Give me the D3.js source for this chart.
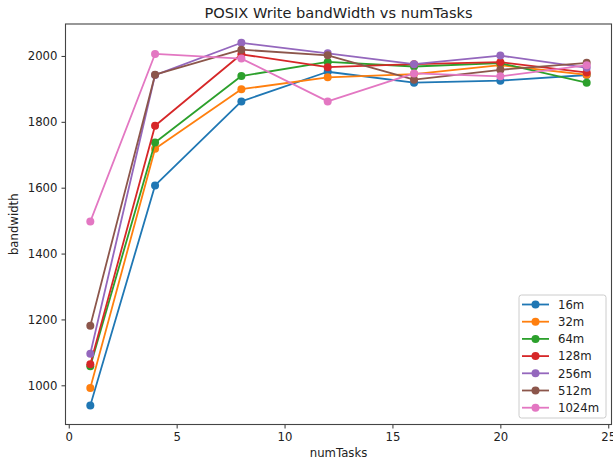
<!DOCTYPE html>
<html>
<head>
<meta charset="utf-8">
<script src="https://cdn.jsdelivr.net/npm/d3@7"></script>
<style>
  html, body { margin: 0; padding: 0; background: #fff; }
  svg { display: block; font-family: "DejaVu Sans", sans-serif; }
</style>
</head>
<body>
<svg id="chart" width="613" height="464"></svg>
<script>
// numTasks on the x axis
const numTasks = [1, 4, 8, 12, 16, 20, 24];

// bandwidth per block size
const bw16m   = [939, 1607, 1862, 1952, 1919, 1925, 1942];
const bw32m   = [992, 1718, 1899, 1935, 1945, 1972, 1943];
const bw64m   = [1058, 1737, 1939, 1982, 1968, 1978, 1919];
const bw128m  = [1064, 1788, 2005, 1966, 1975, 1981, 1950];
const bw256m  = [1096, 1942, 2040, 2008, 1975, 2001, 1964];
const bw512m  = [1181, 1943, 2019, 2002, 1928, 1958, 1979];
const bw1024m = [1497, 2006, 1992, 1862, 1947, 1938, 1972];

const seriesNames = ["16m", "32m", "64m", "128m", "256m", "512m", "1024m"];
const seriesValues = [bw16m, bw32m, bw64m, bw128m, bw256m, bw512m, bw1024m];
const seriesColors = ["#1f77b4", "#ff7f0e", "#2ca02c", "#d62728", "#9467bd", "#8c564b", "#e377c2"];

const xTicks = [0, 5, 10, 15, 20, 25];
const yTicks = [1000, 1200, 1400, 1600, 1800, 2000];

const plot = { left: 65.5, right: 611.5, top: 24, bottom: 424.5 };

const svg = d3.select("#chart");

const x = d3.scaleLinear().domain([-0.15, 25.15]).range([plot.left, plot.right]);
const y = d3.scaleLinear().domain([881, 2097]).range([plot.bottom, plot.top]);

const tickFont = "11.7px";

// axes
const xAxis = svg.append("g")
  .attr("transform", `translate(0,${plot.bottom})`)
  .call(d3.axisBottom(x).tickValues(xTicks).tickFormat(d3.format("d")).tickSizeOuter(0).tickSize(4).tickPadding(4));
const yAxis = svg.append("g")
  .attr("transform", `translate(${plot.left},0)`)
  .call(d3.axisLeft(y).tickValues(yTicks).tickFormat(d3.format("d")).tickSizeOuter(0).tickSize(4).tickPadding(4));

[xAxis, yAxis].forEach(g => {
  g.select(".domain").remove();
  g.selectAll(".tick line").attr("stroke", "#333").attr("stroke-width", 1);
  g.selectAll(".tick text")
    .attr("fill", "#222")
    .style("font-size", tickFont)
    .style("font-family", "DejaVu Sans, sans-serif");
});

// series lines and markers
const line = d3.line().x((d, i) => x(numTasks[i])).y(d => y(d));

seriesValues.forEach((vals, k) => {
  const g = svg.append("g");
  g.append("path")
    .datum(vals)
    .attr("d", line)
    .attr("fill", "none")
    .attr("stroke", seriesColors[k])
    .attr("stroke-width", 1.8)
    .attr("stroke-linejoin", "round")
    .attr("stroke-linecap", "square");
  g.selectAll("circle")
    .data(vals)
    .join("circle")
    .attr("cx", (d, i) => x(numTasks[i]))
    .attr("cy", d => y(d))
    .attr("r", 4)
    .attr("fill", seriesColors[k]);
});

// frame
svg.append("rect")
  .attr("x", plot.left)
  .attr("y", plot.top)
  .attr("width", plot.right - plot.left)
  .attr("height", plot.bottom - plot.top)
  .attr("fill", "none")
  .attr("stroke", "#444")
  .attr("stroke-width", 1.1);

// title and axis labels
svg.append("text")
  .attr("x", (plot.left + plot.right) / 2)
  .attr("y", 18)
  .attr("text-anchor", "middle")
  .attr("fill", "#222")
  .style("font-size", "14.6px")
  .text("POSIX Write bandWidth vs numTasks");

svg.append("text")
  .attr("x", (plot.left + plot.right) / 2)
  .attr("y", 457)
  .attr("text-anchor", "middle")
  .attr("fill", "#222")
  .style("font-size", tickFont)
  .text("numTasks");

svg.append("text")
  .attr("transform", `translate(18,${(plot.top + plot.bottom) / 2}) rotate(-90)`)
  .attr("text-anchor", "middle")
  .attr("fill", "#222")
  .style("font-size", tickFont)
  .text("bandwidth");

// legend
const legend = svg.append("g").attr("transform", "translate(519,295)");
legend.append("rect")
  .attr("x", 0).attr("y", 0)
  .attr("width", 87).attr("height", 123)
  .attr("rx", 2.5)
  .attr("fill", "#fff").attr("fill-opacity", 0.8)
  .attr("stroke", "#ccc").attr("stroke-width", 1);

seriesNames.forEach((name, k) => {
  const cy = 9.5 + k * 17.2;
  legend.append("line")
    .attr("x1", 3).attr("x2", 30)
    .attr("y1", cy).attr("y2", cy)
    .attr("stroke", seriesColors[k]).attr("stroke-width", 1.8);
  legend.append("circle")
    .attr("cx", 16.5).attr("cy", cy).attr("r", 4)
    .attr("fill", seriesColors[k]);
  legend.append("text")
    .attr("x", 39).attr("y", cy)
    .attr("dy", "0.36em")
    .attr("fill", "#222")
    .style("font-size", tickFont)
    .text(name);
});
</script>
</body>
</html>
